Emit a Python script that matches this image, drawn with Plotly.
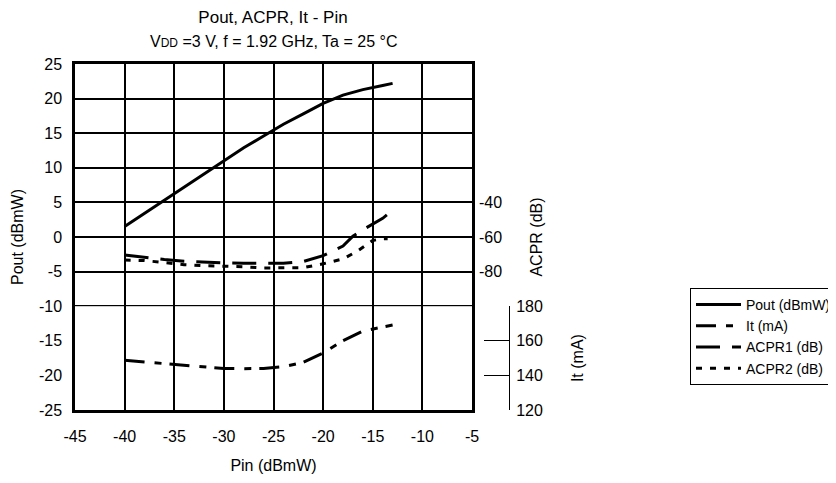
import plotly.graph_objects as go

# Pout vs Pin
pin_pout = [-40, -38, -36, -34, -32, -30, -28, -26, -24, -22, -20, -18, -16, -14, -13]
pout = [1.5, 3.4, 5.3, 7.2, 9.1, 11.0, 12.9, 14.6, 16.3, 17.8, 19.3, 20.5, 21.3, 21.9, 22.2]

# It vs Pin
pin_it = [-40, -38, -36, -34, -32, -30, -28, -26, -24, -22, -20, -18, -16, -14, -13]
it_ma = [148.7, 147.8, 146.8, 145.8, 144.8, 144.0, 143.9, 144.0, 145.0, 147.6, 153.0, 160.0, 165.6, 168.2, 169.1]

# ACPR vs Pin
pin_acpr1 = [-40, -38, -36, -34, -32, -30, -28, -26, -24, -22, -20, -18, -17, -16, -15, -14, -13]
acpr1 = [-70.4, -71.8, -73.0, -74.0, -74.6, -75.0, -75.2, -75.2, -75.2, -74.2, -70.8, -65.2, -59.5, -55.8, -52.4, -49.2, -44.5]
pin_acpr2 = [-40, -38, -36, -34, -32, -30, -28, -26, -24, -22, -20, -18, -16.5, -16, -15, -14, -13.5]
acpr2 = [-73.3, -73.6, -74.8, -76.0, -76.6, -76.8, -77.2, -77.9, -77.9, -77.7, -75.5, -72.7, -68.0, -66.0, -62.0, -61.0, -61.0]

# tick values
x_ticks = [-45, -40, -35, -30, -25, -20, -15, -10, -5]
pout_ticks = [-25, -20, -15, -10, -5, 0, 5, 10, 15, 20, 25]
acpr_ticks = [-80, -60, -40]
it_ticks = [120, 140, 160, 180]

W, H = 836, 483
OFF = 8  # page body margin
FONT = "Liberation Sans, Arial, sans-serif"


def xp(px):
    return (px - OFF) / W


def yp(py):
    return 1 - (py - OFF) / H


x0, x1 = xp(75), xp(472)
y0, y1 = yp(410), yp(64)

fig = go.Figure()
fig.add_trace(go.Scatter(x=pin_pout, y=pout, name="Pout (dBmW)", mode="lines",
                         line=dict(color="black", width=3)))
fig.add_trace(go.Scatter(x=pin_it, y=it_ma, name="It (mA)", mode="lines", yaxis="y3",
                         line=dict(color="black", width=3, dash="20px,10px,7px,8px")))
fig.add_trace(go.Scatter(x=pin_acpr1, y=acpr1, name="ACPR1 (dB)", mode="lines", yaxis="y2",
                         line=dict(color="black", width=3, dash="24px,12px")))
fig.add_trace(go.Scatter(x=pin_acpr2, y=acpr2, name="ACPR2 (dB)", mode="lines", yaxis="y2",
                         line=dict(color="black", width=3, dash="6px,8px")))

axis_font = dict(family=FONT, size=16, color="black")

fig.update_layout(
    width=W, height=H,
    margin=dict(l=0, r=0, t=0, b=0, autoexpand=False),
    paper_bgcolor="white", plot_bgcolor="white",
    font=dict(family=FONT, color="black"),
    title=dict(text="Pout, ACPR, It - Pin", x=xp(273), xanchor="center",
               y=yp(17), yanchor="middle", font=dict(family=FONT, size=17)),
    annotations=[dict(text="V<span style='font-size:12px'>DD</span> =3 V, f = 1.92 GHz, Ta = 25 °C",
                      xref="paper", yref="paper", x=xp(273), y=yp(41),
                      xanchor="center", yanchor="middle", showarrow=False,
                      font=dict(family=FONT, size=16))],
    xaxis=dict(domain=[x0, x1], range=[-45, -5], tickvals=x_ticks,
               ticktext=[str(v) for v in x_ticks], showgrid=True,
               gridcolor="black", gridwidth=2, zeroline=False, automargin=False,
               showline=True, linecolor="black", linewidth=2.5, mirror=True,
               ticks="", tickfont=axis_font, ticklabelstandoff=10,
               title=dict(text="Pin (dBmW)", font=axis_font, standoff=16)),
    yaxis=dict(domain=[y0, y1], range=[-25, 25], tickvals=pout_ticks,
               ticktext=[str(v) for v in pout_ticks], showgrid=True,
               gridcolor="black", gridwidth=2, zeroline=False, automargin=False,
               showline=True, linecolor="black", linewidth=2.5, mirror=True,
               ticks="", tickfont=axis_font, ticklabelstandoff=7,
               title=dict(text="Pout (dBmW)", font=axis_font, standoff=12)),
    yaxis2=dict(overlaying="y", side="right", anchor="free", position=xp(478),
                range=[-160, 40], tickvals=acpr_ticks,
                ticktext=[str(v) for v in acpr_ticks], showgrid=False,
                zeroline=False, showline=False, ticks="", tickfont=axis_font,
                automargin=False,
                title=dict(text="ACPR (dB)", font=axis_font, standoff=29)),
    yaxis3=dict(domain=[y0, y0 + 0.3 * (y1 - y0)], side="right", anchor="free",
                position=xp(509), range=[120, 180], tickvals=it_ticks,
                ticktext=[str(v) for v in it_ticks], showgrid=False,
                zeroline=False, showline=True, linecolor="black", linewidth=1,
                ticks="inside", ticklen=25, tickcolor="black", tickwidth=1,
                tickfont=axis_font, automargin=False, ticklabelstandoff=3,
                title=dict(text="It (mA)", font=axis_font, standoff=29)),
    legend=dict(x=xp(690), y=yp(288), xanchor="left", yanchor="top",
                bordercolor="black", borderwidth=1, bgcolor="white",
                font=dict(family=FONT, size=14), itemwidth=45,
                tracegroupgap=0),
)

fig.write_html("out.html")
